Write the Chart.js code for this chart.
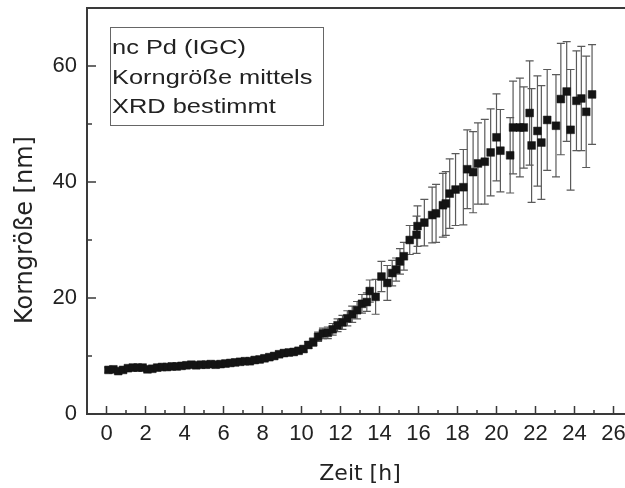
<!DOCTYPE html>
<html>
<head>
<meta charset="utf-8">
<script src="https://cdn.jsdelivr.net/npm/chart.js@4"></script>
<style>
  html, body { margin: 0; padding: 0; background: #fff; overflow: hidden; }
  #wrap { width: 625px; height: 488px; overflow: hidden; }
</style>
</head>
<body>
<div id="wrap"><canvas id="grainChart" width="660" height="488"></canvas></div>
<script>
// Zeit in Stunden
const zeitH = [
  0.1, 0.35, 0.6, 0.85, 1.1, 1.35, 1.6, 1.85, 2.1, 2.35,
  2.6, 2.85, 3.1, 3.35, 3.6, 3.85, 4.1, 4.35, 4.6, 4.85,
  5.1, 5.35, 5.6, 5.85, 6.1, 6.35, 6.6, 6.85, 7.1, 7.35,
  7.6, 7.85, 8.1, 8.35, 8.6, 8.85, 9.1, 9.35, 9.6, 9.85,
  10.1, 10.35, 10.6, 10.85, 11.1, 11.35, 11.6, 11.85, 12.1, 12.35,
  12.6, 12.85, 13.1, 13.35, 13.5, 13.8, 14.1, 14.4, 14.65, 14.85,
  15.05, 15.25, 15.55, 15.9, 15.95, 16.3, 16.7, 16.9, 17.25, 17.4,
  17.6, 17.9, 18.3, 18.5, 18.8, 19.05, 19.4, 19.7, 20.0, 20.2,
  20.7, 20.85, 21.2, 21.4, 21.7, 21.8, 22.1, 22.3, 22.6, 23.05,
  23.3, 23.6, 23.8, 24.1, 24.35, 24.6, 24.9
];
// Korngröße in nm
const korngroesse = [
  7.6, 7.7, 7.4, 7.6, 7.9, 8.0, 8.0, 8.0, 7.7, 7.8,
  8.0, 8.1, 8.1, 8.2, 8.2, 8.3, 8.4, 8.5, 8.4, 8.5,
  8.5, 8.6, 8.5, 8.6, 8.7, 8.8, 8.9, 9.0, 9.1, 9.1,
  9.3, 9.4, 9.6, 9.8, 10.0, 10.3, 10.5, 10.6, 10.7, 10.9,
  11.2, 11.9, 12.4, 13.3, 13.9, 14.0, 14.6, 15.3, 15.8, 16.5,
  17.2, 17.9, 19.0, 19.3, 21.2, 20.2, 23.7, 22.6, 24.3, 24.9,
  26.3, 27.2, 30.0, 30.9, 32.4, 33.0, 34.3, 34.6, 36.0, 36.3,
  38.0, 38.7, 39.1, 42.2, 41.7, 43.2, 43.5, 45.1, 47.7, 45.4,
  44.6, 49.4, 49.4, 49.4, 51.9, 46.3, 48.8, 46.8, 50.7, 49.7,
  54.3, 55.6, 49.0, 54.0, 54.4, 52.1, 55.1
];
// Fehler (+/-) in nm
const fehler = [
  0.4, 0.4, 0.4, 0.4, 0.4, 0.4, 0.4, 0.4, 0.4, 0.4,
  0.4, 0.4, 0.4, 0.4, 0.4, 0.4, 0.4, 0.4, 0.4, 0.4,
  0.4, 0.4, 0.4, 0.4, 0.4, 0.4, 0.4, 0.4, 0.4, 0.4,
  0.5, 0.5, 0.5, 0.5, 0.5, 0.5, 0.5, 0.5, 0.5, 0.5,
  0.5, 0.6, 0.7, 0.8, 0.9, 1.0, 1.0, 1.1, 1.2, 1.3,
  1.4, 1.5, 1.6, 1.6, 1.9, 3.0, 2.6, 3.0, 2.2, 2.0,
  2.2, 2.4, 2.5, 3.2, 3.5, 4.0, 4.8, 5.0, 5.5, 5.5,
  6.0, 6.2, 6.5, 6.8, 7.0, 7.0, 7.3, 7.5, 7.5, 7.1,
  6.5, 8.0, 8.5, 7.0, 9.0, 9.8, 9.5, 9.8, 8.7, 8.8,
  9.6, 8.6, 10.4, 8.6, 9.0, 9.6, 8.6
];

const xMajor = [0, 2, 4, 6, 8, 10, 12, 14, 16, 18, 20, 22, 24, 26];
const xMinor = [1, 3, 5, 7, 9, 11, 13, 15, 17, 19, 21, 23, 25];
const yMajor = [0, 20, 40, 60];
const yMinor = [10, 30, 50];
const legendLines = ["nc Pd (IGC)", "Korngröße mittels", "XRD bestimmt"];

const axisColor = "#3a3a3a";
const textColor = "#222";
const tickFont = { family: "'Liberation Sans', Arial, sans-serif", size: 22 };
const titleFamily = "'DejaVu Sans', sans-serif";

const points = zeitH.map((t, i) => ({ x: t, y: korngroesse[i] }));

const errorBars = {
  id: "errorBars",
  beforeDatasetsDraw(chart) {
    const { ctx, scales: { x, y } } = chart;
    ctx.save();
    ctx.strokeStyle = "#5a5a5a";
    ctx.lineWidth = 1.2;
    zeitH.forEach((t, i) => {
      const px = x.getPixelForValue(t);
      const top = y.getPixelForValue(korngroesse[i] + fehler[i]);
      const bot = y.getPixelForValue(korngroesse[i] - fehler[i]);
      ctx.beginPath();
      ctx.moveTo(px, top); ctx.lineTo(px, bot);
      ctx.moveTo(px - 4, top); ctx.lineTo(px + 4, top);
      ctx.moveTo(px - 4, bot); ctx.lineTo(px + 4, bot);
      ctx.stroke();
    });
    ctx.restore();
  }
};

const frameAndNote = {
  id: "frameAndNote",
  afterDraw(chart) {
    const { ctx, chartArea: a, scales: { x, y } } = chart;
    ctx.save();
    ctx.strokeStyle = axisColor;
    ctx.lineWidth = 2;
    // top border
    ctx.beginPath();
    ctx.moveTo(a.left, a.top); ctx.lineTo(a.right, a.top);
    ctx.stroke();
    // inward ticks
    ctx.lineWidth = 1.5;
    ctx.beginPath();
    xMajor.forEach(v => { const p = x.getPixelForValue(v); ctx.moveTo(p, a.bottom); ctx.lineTo(p, a.bottom - 8); });
    xMinor.forEach(v => { const p = x.getPixelForValue(v); ctx.moveTo(p, a.bottom); ctx.lineTo(p, a.bottom - 4); });
    yMajor.forEach(v => { const p = y.getPixelForValue(v); ctx.moveTo(a.left, p); ctx.lineTo(a.left + 9, p); });
    yMinor.forEach(v => { const p = y.getPixelForValue(v); ctx.moveTo(a.left, p); ctx.lineTo(a.left + 5, p); });
    ctx.stroke();

    // note box
    const bx = a.left + 23, by = a.top + 19, bw = 213, bh = 98;
    ctx.strokeStyle = "#666";
    ctx.lineWidth = 1;
    ctx.strokeRect(bx + 0.5, by + 0.5, bw, bh);
    ctx.fillStyle = textColor;
    ctx.font = "20px 'Liberation Sans', Arial, sans-serif";
    ctx.textBaseline = "alphabetic";
    ctx.textAlign = "left";
    legendLines.forEach((line, i) => {
      ctx.save();
      ctx.translate(bx + 2, by + 27 + i * 29.5);
      ctx.scale(1.27, 1);
      ctx.fillText(line, 0, 0);
      ctx.restore();
    });
    ctx.restore();
  }
};

new Chart(document.getElementById("grainChart"), {
  type: "scatter",
  data: {
    datasets: [{
      label: "Korngröße",
      data: points,
      pointStyle: "rect",
      pointRadius: 5.5,
      backgroundColor: "#141414",
      borderColor: "#141414",
      borderWidth: 0.5,
      showLine: false
    }]
  },
  options: {
    responsive: false,
    animation: false,
    layout: { padding: { left: 0, top: 8, right: 27, bottom: 0 } },
    plugins: { legend: { display: false }, tooltip: { enabled: false } },
    scales: {
      x: {
        type: "linear",
        min: -1,
        max: 27,
        grid: { display: false, drawTicks: false },
        border: { display: true, color: axisColor, width: 2 },
        afterBuildTicks: s => { s.ticks = xMajor.map(v => ({ value: v })); },
        afterFit: s => { s.height = 74; s.paddingLeft = 0; s.paddingRight = 0; },
        ticks: { font: tickFont, color: textColor, padding: 7, maxRotation: 0, autoSkip: false },
        title: {
          display: true, text: "Zeit [h]", color: textColor,
          font: { family: titleFamily, size: 22 }, padding: { top: 0, bottom: 1 }
        }
      },
      y: {
        min: 0,
        max: 70,
        grid: { display: false, drawTicks: false },
        border: { display: true, color: axisColor, width: 2 },
        afterBuildTicks: s => { s.ticks = yMajor.map(v => ({ value: v })); },
        afterFit: s => { s.width = 87; s.paddingTop = 0; s.paddingBottom = 0; },
        ticks: { font: tickFont, color: textColor, padding: 10 },
        title: {
          display: true, text: "Korngröße [nm]     ", color: textColor,
          font: { family: titleFamily, size: 24 }, padding: { top: 11, bottom: 0 }
        }
      }
    }
  },
  plugins: [errorBars, frameAndNote]
});
</script>
</body>
</html>
